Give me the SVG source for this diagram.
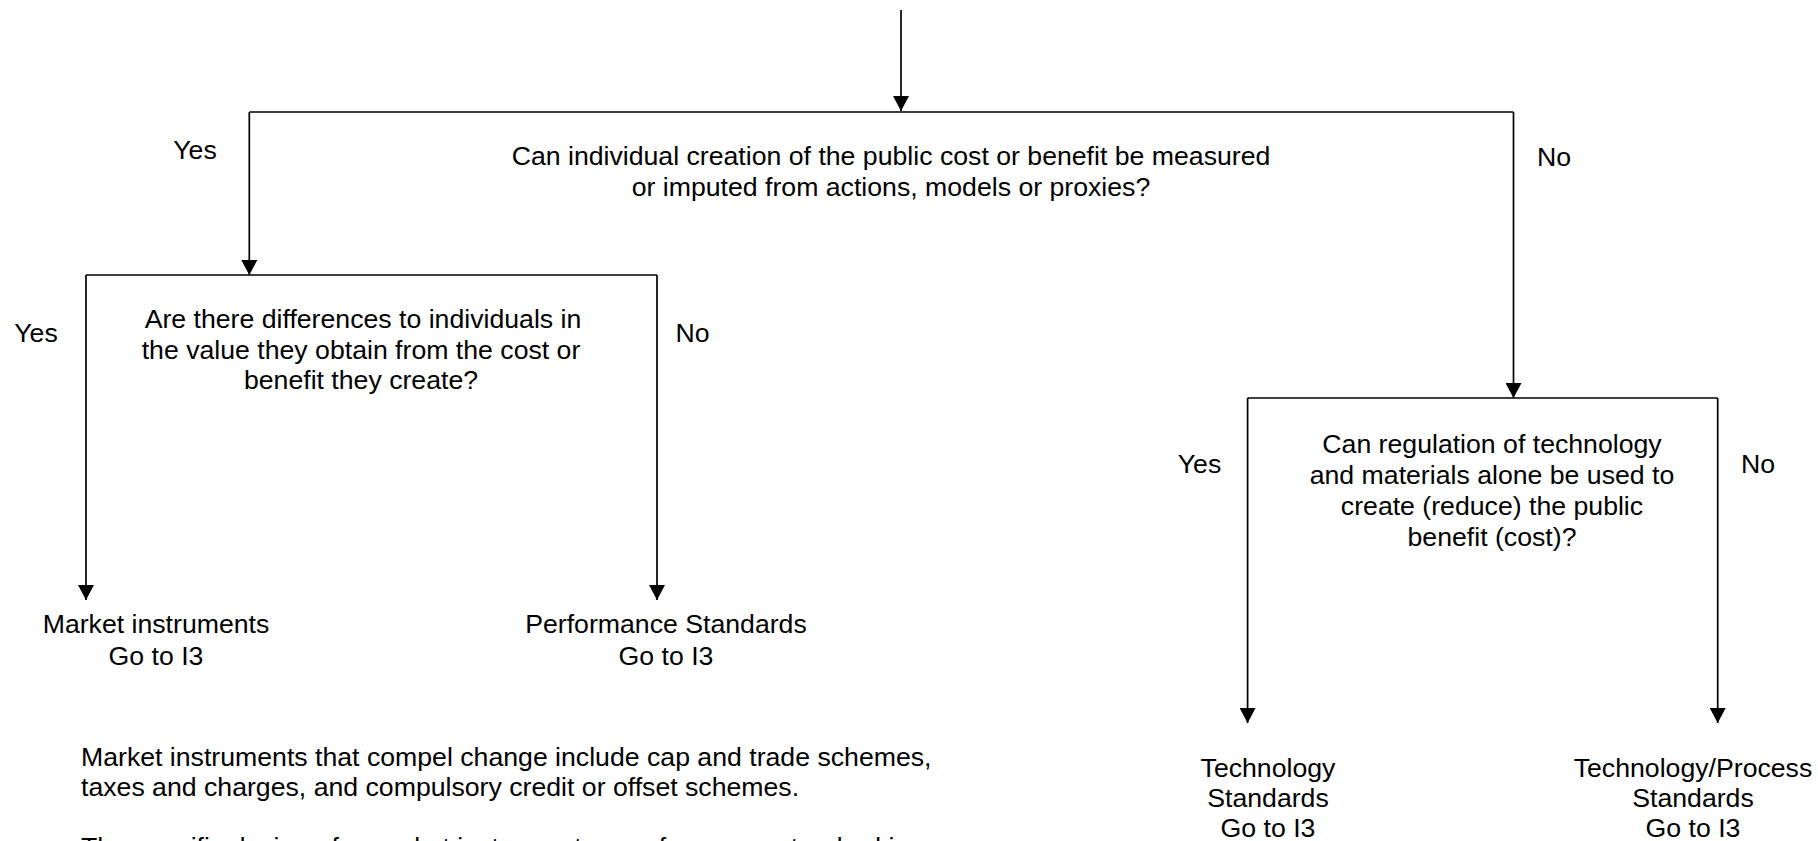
<svg xmlns="http://www.w3.org/2000/svg" width="1818" height="841" viewBox="0 0 1818 841">
<style>
text{font-family:"Liberation Sans",Arial,sans-serif;font-size:26.67px;fill:#000}
.m{text-anchor:middle}
.c{stroke:#000;stroke-width:1.7;fill:none}
</style>
<defs>
<marker id="ah" viewBox="0 0 15 16" refX="15" refY="8" markerWidth="15" markerHeight="16" markerUnits="userSpaceOnUse" orient="auto">
<path d="M0,0 L15,8 L0,16 z" fill="#000"/>
</marker>
</defs>
<rect width="1818" height="841" fill="#fff"/>
<g id="connectors">
<path class="c" d="M901,10 V111" marker-end="url(#ah)"/>
<path class="c" d="M249.3,112 H1513.5"/>
<path class="c" d="M249.3,112 V275" marker-end="url(#ah)"/>
<path class="c" d="M1513.5,112 V398" marker-end="url(#ah)"/>
<path class="c" d="M86,275 H657"/>
<path class="c" d="M86,275 V600" marker-end="url(#ah)"/>
<path class="c" d="M657,275 V600" marker-end="url(#ah)"/>
<path class="c" d="M1247.6,398 H1717.7"/>
<path class="c" d="M1247.6,398 V723" marker-end="url(#ah)"/>
<path class="c" d="M1717.7,398 V723" marker-end="url(#ah)"/>
</g>
<g id="q1">
<text class="m" x="891" y="165">Can individual creation of the public cost or benefit be measured</text>
<text class="m" x="891" y="196">or imputed from actions, models or proxies?</text>
</g>
<g id="q1-labels">
<text class="m" x="195" y="159">Yes</text>
<text class="m" x="1554" y="166">No</text>
</g>
<g id="q2">
<text class="m" x="363" y="328">Are there differences to individuals in</text>
<text class="m" x="361" y="359">the value they obtain from the cost or</text>
<text class="m" x="361" y="389">benefit they create?</text>
</g>
<g id="q2-labels">
<text class="m" x="36" y="342">Yes</text>
<text class="m" x="692.5" y="342">No</text>
</g>
<g id="q3">
<text class="m" x="1492" y="453">Can regulation of technology</text>
<text class="m" x="1492" y="484">and materials alone be used to</text>
<text class="m" x="1492" y="515">create (reduce) the public</text>
<text class="m" x="1492" y="546">benefit (cost)?</text>
</g>
<g id="q3-labels">
<text class="m" x="1199.5" y="473">Yes</text>
<text class="m" x="1758" y="473">No</text>
</g>
<g id="market">
<text class="m" x="156" y="633">Market instruments</text>
<text class="m" x="156" y="665">Go to I3</text>
</g>
<g id="performance">
<text class="m" x="666" y="633">Performance Standards</text>
<text class="m" x="666" y="665">Go to I3</text>
</g>
<g id="technology">
<text class="m" x="1268" y="777">Technology</text>
<text class="m" x="1268" y="807">Standards</text>
<text class="m" x="1268" y="837">Go to I3</text>
</g>
<g id="techprocess">
<text class="m" x="1693" y="777">Technology/Process</text>
<text class="m" x="1693" y="807">Standards</text>
<text class="m" x="1693" y="837">Go to I3</text>
</g>
<g id="note">
<text x="81" y="766">Market instruments that compel change include cap and trade schemes,</text>
<text x="81" y="796">taxes and charges, and compulsory credit or offset schemes.</text>
<text x="81" y="856">The specific design of a market instrument or performance standard is</text>
</g>
</svg>
